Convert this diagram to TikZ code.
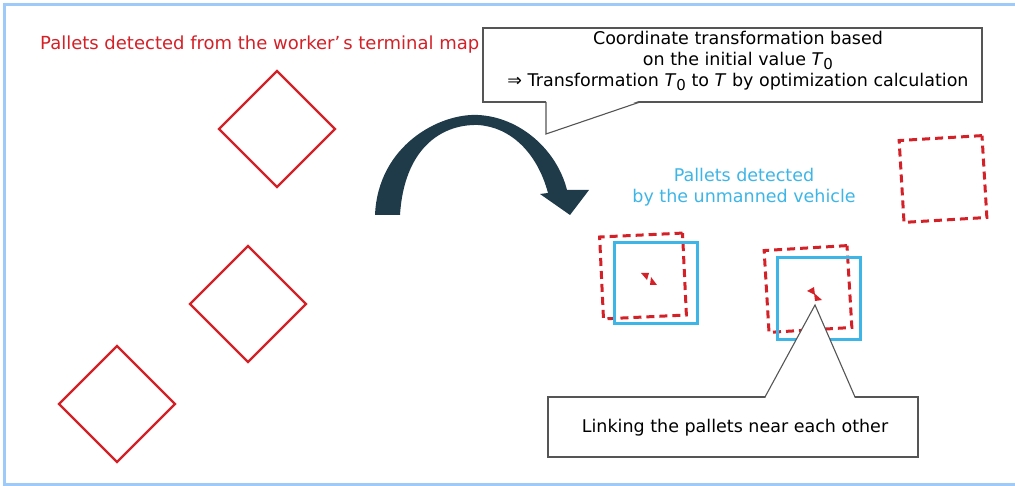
\documentclass[tikz,border=0pt]{standalone}
\usepackage{fontspec}
\setmainfont{DejaVu Sans}

\definecolor{palred}{HTML}{D42027}
\definecolor{palblue}{HTML}{3DB5E6}
\definecolor{arrowdark}{HTML}{1F3B4A}
\definecolor{framebl}{HTML}{9DCAF8}
\definecolor{boxgray}{HTML}{555555}

\newcommand{\Tnull}{\textit{T}\raisebox{-.35ex}{\fontsize{15}{15}\selectfont 0}}

\begin{document}
\begin{tikzpicture}[x=1pt,y=-1pt]
\tikzset{
	txt/.style={font=\fontsize{17.5}{21}\selectfont, inner sep=0pt},
	pal/.style={draw=palred, line width=2.4pt, minimum size=82pt, inner sep=0pt, rotate=45},
	pald/.style={draw=palred, line width=3pt, dash pattern=on 8pt off 5pt, inner sep=0pt},
	palv/.style={draw=palblue, line width=3pt, inner sep=0pt},
	box/.style={draw=boxgray, line width=1.3pt, fill=white, inner sep=0pt},
	leg/.style={draw=boxgray, line width=1.1pt}
}
\useasboundingbox (0,0) rectangle (1015,486);

% frame
\draw[framebl, line width=3pt] (1015,5) -- (4,5) -- (4,484) -- (1015,484);

% worker's terminal map
\node[txt, font=\fontsize{18}{21}\selectfont, text=palred, anchor=west] (t_w) at (40,45) {Pallets detected from the worker’\,s terminal map};
\node[pal] (w_1) at (277,129) {};
\node[pal] (w_2) at (248,304) {};
\node[pal] (w_3) at (117,404) {};

% arrow
\fill[arrowdark] (375,215) .. controls (378,145) and (440,113) .. (478,115)
	.. controls (520,117) and (557,150) .. (567,190) -- (589,190) -- (570,215) -- (540,194) -- (548,193)
	.. controls (537,152) and (510,127) .. (478,125)
	.. controls (440,124) and (404,150) .. (400,215) -- cycle;

% callout T0
\node[box, minimum width=499pt, minimum height=74pt] (b_1) at (732.5,65) {};
\node[txt, align=center] (t_1) at (738,61) {Coordinate transformation based\\on the initial value \Tnull\\⇒ Transformation \Tnull{} to \textit{T} by optimization calculation};
\coordinate (b_1a) at (546,102);
\coordinate (b_1b) at (640,102);
\coordinate (b_1t) at (546,134);
\fill[white] ([yshift=1.5pt]b_1a) -- (b_1t) -- ([yshift=1.5pt]b_1b) -- cycle;
\draw[leg] (b_1a) -- (b_1t) -- (b_1b);

% unmanned vehicle
\node[txt, text=palblue, align=center] (t_v) at (744,187) {Pallets detected\\by the unmanned vehicle};
\node[pald, minimum width=83pt, minimum height=82pt, rotate=3.4] (m_0) at (943,179) {};

\node[pald, minimum width=83pt, minimum height=82pt, rotate=2.7] (m_1) at (643,276) {};
\node[palv, minimum width=83pt, minimum height=81pt] (v_1) at (655.5,283.5) {};
\fill[palred] (641,273) -- (649,273) -- (647,280) -- cycle;
\fill[palred] (650,285) -- (657,285) -- (651,277) -- cycle;

\node[pald, minimum width=83pt, minimum height=82pt, rotate=3.4] (m_2) at (808,289) {};
\node[palv, minimum width=83pt, minimum height=82pt] (v_2) at (818.5,299) {};
\fill[palred] (807,291) -- (814,287) -- (815,295) -- cycle;
\fill[palred] (822,300) -- (815,301) -- (814,293) -- cycle;

% callout linking
\node[box, minimum width=370pt, minimum height=60pt] (b_2) at (733,427) {};
\node[txt] (t_2) at (735,428) {Linking the pallets near each other};
\coordinate (b_2a) at (765,397);
\coordinate (b_2b) at (855,397);
\coordinate (b_2t) at (815,305);
\fill[white] ([yshift=-1.5pt]b_2a) -- (b_2t) -- ([yshift=-1.5pt]b_2b) -- cycle;
\draw[leg] (b_2a) -- (b_2t) -- (b_2b);

\end{tikzpicture}
\end{document}
